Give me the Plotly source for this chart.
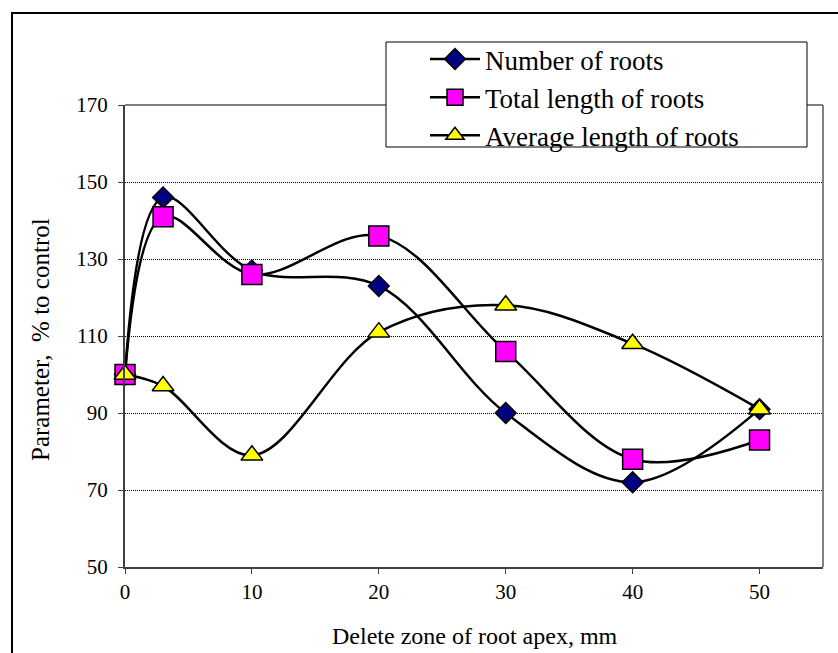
import plotly.graph_objects as go

x_zone = [0, 3, 10, 20, 30, 40, 50]
number_of_roots = [100, 146, 127, 123, 90, 72, 91]
total_length = [100, 141, 126, 136, 106, 78, 83]
average_length = [100, 97, 79, 111, 118, 108, 91]

series_names = ["Number of roots", "Total length of roots", "Average length of roots"]
x_ticks = [0, 10, 20, 30, 40, 50]
y_ticks = [50, 70, 90, 110, 130, 150, 170]

W, H = 838, 653
L, R, T, B = 125, 823, 105, 567  # plot area pixel box


def px(xp):
    return (xp - L) / (R - L)


def py(yp):
    return (B - yp) / (B - T)


FONT = "Liberation Serif, Times New Roman, serif"

fig = go.Figure()
styles = [
    dict(symbol="diamond", size=16, color="#000080"),
    dict(symbol="square", size=20, color="#FF00FF"),
    dict(symbol="triangle-up", size=19, color="#FFFF00"),
]
for name, ys, st in zip(series_names, [number_of_roots, total_length, average_length], styles):
    fig.add_trace(go.Scatter(
        x=x_zone, y=ys, name=name, mode="lines+markers",
        line=dict(color="black", width=2.5, shape="spline", smoothing=1.0),
        marker=dict(symbol=st["symbol"], size=st["size"], color=st["color"],
                    line=dict(color="black", width=1.5)),
        cliponaxis=False,
    ))

fig.update_layout(
    width=W, height=H,
    margin=dict(l=L, r=W - R, t=T, b=H - B),
    paper_bgcolor="white", plot_bgcolor="white",
    font=dict(family=FONT, color="black", size=21),
    showlegend=True,
    legend=dict(
        x=px(425), y=py(35), xanchor="left", yanchor="top",
        bgcolor="rgba(0,0,0,0)", borderwidth=0,
        font=dict(family=FONT, size=27, color="black"),
        itemwidth=50, tracegroupgap=0,
    ),
    xaxis=dict(
        range=[0, 55], tickvals=x_ticks, ticktext=[str(v) for v in x_ticks],
        showgrid=False, zeroline=False,
        showline=True, linecolor="#404040", linewidth=2,
        ticks="outside", ticklen=5, tickcolor="#404040", tickwidth=1,
        tickfont=dict(family=FONT, size=21, color="black"),
    ),
    yaxis=dict(
        range=[50, 170], tickvals=y_ticks, ticktext=[str(v) for v in y_ticks],
        showgrid=True, gridcolor="black", gridwidth=1, griddash="1px,1px",
        zeroline=False,
        showline=True, linecolor="#404040", linewidth=2,
        ticks="outside", ticklen=5, tickcolor="#404040", tickwidth=1,
        ticklabelstandoff=6,
        tickfont=dict(family=FONT, size=21, color="black"),
    ),
    shapes=[
        dict(type="line", xref="paper", yref="paper", x0=0, x1=1, y0=1, y1=1,
             line=dict(color="#808080", width=2)),
        dict(type="line", xref="paper", yref="paper", x0=1, x1=1, y0=0, y1=1,
             line=dict(color="#808080", width=2)),
        dict(type="rect", xref="paper", yref="paper",
             x0=px(12), x1=px(848), y0=py(13), y1=py(670),
             line=dict(color="black", width=2), fillcolor="rgba(0,0,0,0)", layer="above"),
        dict(type="rect", xref="paper", yref="paper",
             x0=px(386), x1=px(807), y0=py(42), y1=py(147),
             line=dict(color="black", width=1), fillcolor="white", layer="above"),
    ],
    annotations=[
        dict(text="Delete zone of root apex, mm", xref="paper", yref="paper",
             x=px(475), y=py(636), xanchor="center", yanchor="middle", showarrow=False,
             font=dict(family=FONT, size=24, color="black")),
        dict(text="Parameter,  % to control", xref="paper", yref="paper",
             x=px(40), y=py(340), xanchor="center", yanchor="middle", showarrow=False,
             textangle=-90, font=dict(family=FONT, size=25, color="black")),
    ],
)

fig.write_html("out.html")
